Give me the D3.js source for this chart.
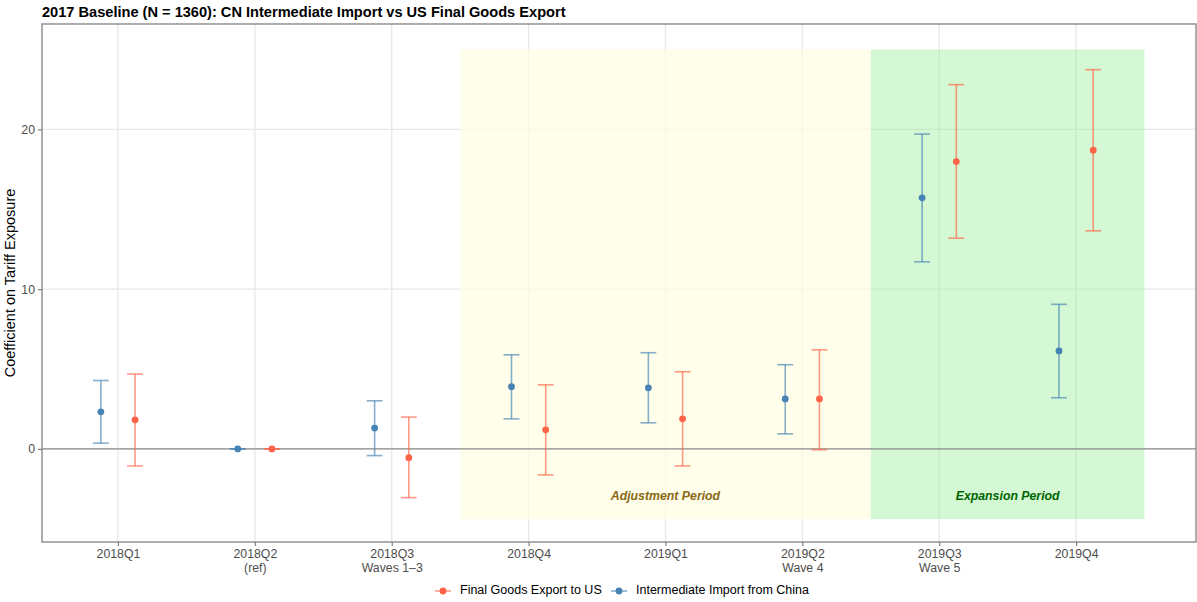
<!DOCTYPE html>
<html>
<head>
<meta charset="utf-8">
<script src="https://cdn.jsdelivr.net/npm/d3@7"></script>
<style>
  body { margin: 0; background: #fff; }
  svg { font-family: "Liberation Sans", Arial, Helvetica, sans-serif; }
</style>
</head>
<body>
<svg width="1197" height="602"></svg>
<script>
// quarters on the x axis, with the second line of each label
var quarters = ["2018Q1", "2018Q2", "2018Q3", "2018Q4", "2019Q1", "2019Q2", "2019Q3", "2019Q4"];
var quarterNotes = ["", "(ref)", "Waves 1\u20133", "", "", "Wave 4", "Wave 5", ""];

// Final Goods Export to US
var finalEst = [1.82, 0, -0.55, 1.19, 1.88, 3.13, 17.99, 18.70];
var finalLo  = [-1.07, 0, -3.05, -1.63, -1.07, -0.05, 13.19, 13.65];
var finalHi  = [4.68, 0, 1.99, 4.01, 4.83, 6.20, 22.80, 23.74];

// Intermediate Import from China
var interEst = [2.32, 0, 1.30, 3.89, 3.82, 3.13, 15.72, 6.13];
var interLo  = [0.36, 0, -0.42, 1.88, 1.63, 0.94, 11.71, 3.20];
var interHi  = [4.28, 0, 3.01, 5.89, 6.02, 5.27, 19.71, 9.05];

var yTicks = [0, 10, 20];

// shaded periods (in quarter index units, 1 = 2018Q1)
var periodLabels = ["Adjustment Period", "Expansion Period"];
var periodStart = [3.5, 6.5];
var periodEnd = [6.5, 8.5];
var periodLow = -4.4, periodHigh = 25;
var periodLabelY = -3;

var seriesNames = ["Final Goods Export to US", "Intermediate Import from China"];

var svg = d3.select("svg");

var panel = { left: 42, right: 1196, top: 24, bottom: 542 };

var xScale = d3.scaleLinear()
               .domain([0.445, 8.876])
               .range([panel.left, panel.right]);

var yScale = d3.scaleLinear()
               .domain([-5.83, 26.6])
               .range([panel.bottom, panel.top]);

var dodge = 0.125;
var capHalf = 0.058;

var colors = {
  final: "#ff6347",
  inter: "#4682b4"
};

function buildRows(est, lo, hi, offset, key) {
  return quarters.map(function(q, i) {
    return { q: q, x: i + 1 + offset, est: est[i], lo: lo[i], hi: hi[i], key: key };
  });
}

var rows = buildRows(interEst, interLo, interHi, -dodge, "inter")
  .concat(buildRows(finalEst, finalLo, finalHi, dodge, "final"));

// grid
var grid = svg.append("g").attr("class", "grid");
grid.selectAll(".vgrid")
    .data(quarters)
    .enter().append("line")
    .attr("x1", function(d, i) { return xScale(i + 1); })
    .attr("x2", function(d, i) { return xScale(i + 1); })
    .attr("y1", panel.top)
    .attr("y2", panel.bottom)
    .attr("stroke", "#e8e8e8")
    .attr("stroke-width", 1.4);

grid.selectAll(".hgrid")
    .data(yTicks)
    .enter().append("line")
    .attr("x1", panel.left)
    .attr("x2", panel.right)
    .attr("y1", function(d) { return yScale(d); })
    .attr("y2", function(d) { return yScale(d); })
    .attr("stroke", "#e8e8e8")
    .attr("stroke-width", 1.4);

// shaded periods
var periodFill = ["#fdfde2", "#90ee90"];
var periodOpacity = [0.7, 0.4];
var periodText = ["#8b6914", "#006400"];

svg.append("g").selectAll("rect")
   .data(periodLabels)
   .enter().append("rect")
   .attr("x", function(d, i) { return xScale(periodStart[i]); })
   .attr("width", function(d, i) { return xScale(periodEnd[i]) - xScale(periodStart[i]); })
   .attr("y", yScale(periodHigh))
   .attr("height", yScale(periodLow) - yScale(periodHigh))
   .attr("fill", function(d, i) { return periodFill[i]; })
   .attr("fill-opacity", function(d, i) { return periodOpacity[i]; });

svg.append("g").selectAll("text")
   .data(periodLabels)
   .enter().append("text")
   .attr("x", function(d, i) { return xScale((periodStart[i] + periodEnd[i]) / 2); })
   .attr("y", yScale(periodLabelY))
   .attr("text-anchor", "middle")
   .attr("dominant-baseline", "middle")
   .attr("font-size", 12.3)
   .attr("font-weight", "bold")
   .attr("font-style", "italic")
   .attr("fill", function(d, i) { return periodText[i]; })
   .text(function(d) { return d; });

// zero line
svg.append("line")
   .attr("x1", panel.left)
   .attr("x2", panel.right)
   .attr("y1", yScale(0))
   .attr("y2", yScale(0))
   .attr("stroke", "#8c8c8c")
   .attr("stroke-width", 1.3);

// error bars
var bars = svg.append("g").selectAll(".bar")
              .data(rows)
              .enter().append("g")
              .attr("class", "bar")
              .attr("stroke", function(d) { return colors[d.key]; })
              .attr("stroke-opacity", 0.65)
              .attr("stroke-width", 1.6);

bars.append("line")
    .attr("x1", function(d) { return xScale(d.x); })
    .attr("x2", function(d) { return xScale(d.x); })
    .attr("y1", function(d) { return yScale(d.lo); })
    .attr("y2", function(d) { return yScale(d.hi); });

bars.append("line")
    .attr("x1", function(d) { return xScale(d.x - capHalf); })
    .attr("x2", function(d) { return xScale(d.x + capHalf); })
    .attr("y1", function(d) { return yScale(d.hi); })
    .attr("y2", function(d) { return yScale(d.hi); });

bars.append("line")
    .attr("x1", function(d) { return xScale(d.x - capHalf); })
    .attr("x2", function(d) { return xScale(d.x + capHalf); })
    .attr("y1", function(d) { return yScale(d.lo); })
    .attr("y2", function(d) { return yScale(d.lo); });

// points
svg.append("g").selectAll("circle")
   .data(rows)
   .enter().append("circle")
   .attr("cx", function(d) { return xScale(d.x); })
   .attr("cy", function(d) { return yScale(d.est); })
   .attr("r", 3.4)
   .attr("fill", function(d) { return colors[d.key]; });

// panel border
svg.append("rect")
   .attr("x", panel.left)
   .attr("y", panel.top)
   .attr("width", panel.right - panel.left)
   .attr("height", panel.bottom - panel.top)
   .attr("fill", "none")
   .attr("stroke", "#8a8a8a")
   .attr("stroke-width", 1.4);

// axes
var xAxis = svg.append("g")
   .attr("transform", "translate(0," + panel.bottom + ")")
   .call(d3.axisBottom(xScale)
           .tickValues(d3.range(1, quarters.length + 1))
           .tickSize(4)
           .tickPadding(3)
           .tickFormat(function(d) { return quarters[d - 1]; }));

xAxis.select(".domain").remove();
xAxis.selectAll(".tick line").attr("stroke", "#7f7f7f").attr("stroke-width", 1.2);
xAxis.selectAll(".tick text")
     .attr("font-size", 12.3)
     .attr("fill", "#4d4d4d")
     .attr("font-family", null);

xAxis.selectAll(".tick").each(function(d) {
  var note = quarterNotes[d - 1];
  if (note) {
    d3.select(this).append("text")
      .attr("y", 21)
      .attr("dy", "0.71em")
      .attr("fill", "#4d4d4d")
      .attr("font-size", 12.3)
      .attr("text-anchor", "middle")
      .text(note);
  }
});

var yAxis = svg.append("g")
   .attr("transform", "translate(" + panel.left + ",0)")
   .call(d3.axisLeft(yScale)
           .tickValues(yTicks)
           .tickSize(4)
           .tickPadding(3));

yAxis.select(".domain").remove();
yAxis.selectAll(".tick line").attr("stroke", "#7f7f7f").attr("stroke-width", 1.2);
yAxis.selectAll(".tick text")
     .attr("font-size", 12.3)
     .attr("fill", "#4d4d4d")
     .attr("font-family", null);

// titles
svg.append("text")
   .attr("x", panel.left)
   .attr("y", 17)
   .attr("font-size", 14.6)
   .attr("font-weight", "bold")
   .attr("fill", "#000")
   .text("2017 Baseline (N = 1360): CN Intermediate Import vs US Final Goods Export");

svg.append("text")
   .attr("transform", "translate(11," + ((panel.top + panel.bottom) / 2) + ") rotate(-90)")
   .attr("text-anchor", "middle")
   .attr("dominant-baseline", "middle")
   .attr("font-size", 14.5)
   .attr("fill", "#000")
   .text("Coefficient on Tariff Exposure");

// legend
var legendKeys = ["final", "inter"];
var legendX = [443, 619];
var legend = svg.append("g").selectAll(".key")
   .data(seriesNames)
   .enter().append("g")
   .attr("transform", function(d, i) { return "translate(" + legendX[i] + ",591)"; });

legend.append("line")
   .attr("x1", -8).attr("x2", 8)
   .attr("stroke", function(d, i) { return colors[legendKeys[i]]; })
   .attr("stroke-opacity", 0.65)
   .attr("stroke-width", 1.6);

legend.append("circle")
   .attr("r", 3.4)
   .attr("fill", function(d, i) { return colors[legendKeys[i]]; });

legend.append("text")
   .attr("x", 17)
   .attr("dominant-baseline", "middle")
   .attr("font-size", 12.5)
   .attr("fill", "#000")
   .text(function(d) { return d; });
</script>
</body>
</html>
